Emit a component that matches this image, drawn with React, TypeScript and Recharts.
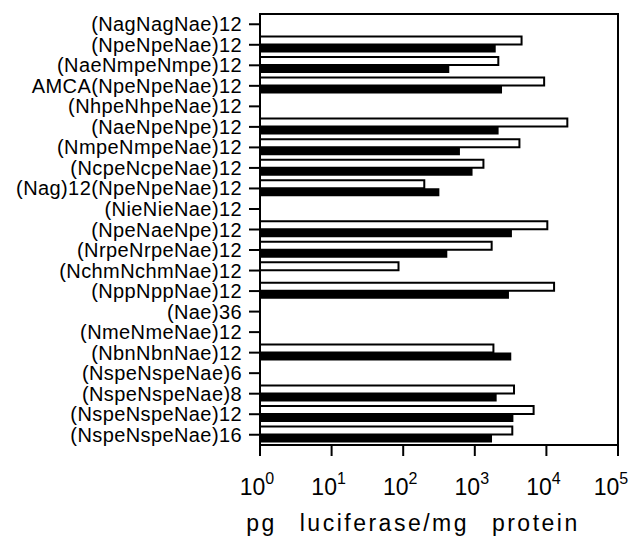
import React from "react";
import {
  BarChart,
  Bar,
  XAxis,
  YAxis,
  ReferenceArea,
} from "recharts";

const compounds = [
  "(NagNagNae)12",
  "(NpeNpeNae)12",
  "(NaeNmpeNmpe)12",
  "AMCA(NpeNpeNae)12",
  "(NhpeNhpeNae)12",
  "(NaeNpeNpe)12",
  "(NmpeNmpeNae)12",
  "(NcpeNcpeNae)12",
  "(Nag)12(NpeNpeNae)12",
  "(NieNieNae)12",
  "(NpeNaeNpe)12",
  "(NrpeNrpeNae)12",
  "(NchmNchmNae)12",
  "(NppNppNae)12",
  "(Nae)36",
  "(NmeNmeNae)12",
  "(NbnNbnNae)12",
  "(NspeNspeNae)6",
  "(NspeNspeNae)8",
  "(NspeNspeNae)12",
  "(NspeNspeNae)16",
];

// open (white) bars, upper in each pair
const openValues = [
  null, 4500, 2130, 9300, null, 19600, 4200, 1320, 197, null, 10300,
  1720, 86, 12800, null, null, 1820, null, 3530, 6630, 3340,
];

// filled (black) bars, lower in each pair
const filledValues = [
  null, 1960, 440, 2400, null, 2150, 620, 930, 320, null, 3300,
  413, null, 3000, null, null, 3230, null, 2020, 3460, 1740,
];

const xTicks = [1, 10, 100, 1000, 10000, 100000];
const xTitle = "pg luciferase/mg protein";

const font = "'Liberation Sans', Arial, Helvetica, sans-serif";

const data = compounds.map((name, i) => ({
  name,
  open: openValues[i],
  filled: filledValues[i],
}));

function PowerTick(props: any) {
  const { x, y, payload } = props;
  const exp = Math.round(Math.log10(payload.value));
  return (
    <text
      x={x - 3}
      y={y + 37}
      textAnchor="middle"
      fill="#000"
      fontFamily={font}
      fontSize={23}
    >
      <tspan>10</tspan>
      <tspan dy={-11} fontSize={16}>
        {exp}
      </tspan>
    </text>
  );
}

function NameTick(props: any) {
  const { x, y, payload } = props;
  return (
    <text
      x={x}
      y={y}
      dy={7}
      textAnchor="end"
      fill="#000"
      fontFamily={font}
      fontSize={20}
      letterSpacing={0.4}
    >
      {payload.value}
    </text>
  );
}

function AxisTitle(props: any) {
  const vb = props.viewBox || {};
  return (
    <text
      x={vb.x + vb.width / 2 - 26}
      y={vb.y + 86}
      textAnchor="middle"
      fill="#000"
      fontFamily={font}
      fontSize={23}
      letterSpacing={2.5}
      wordSpacing={14}
    >
      {xTitle}
    </text>
  );
}

export default function App() {
  return (
    <div style={{ position: "absolute", left: 0, top: 0, background: "#fff" }}>
      <BarChart
        width={638}
        height={542}
        data={data}
        layout="vertical"
        margin={{ top: 14, right: 20, left: 0, bottom: 0 }}
        barCategoryGap={2}
        barGap={0}
      >
        <XAxis
          type="number"
          scale="log"
          domain={[1, 100000]}
          ticks={xTicks}
          allowDataOverflow
          height={97}
          axisLine={{ stroke: "#000", strokeWidth: 2 }}
          tickLine={{ stroke: "#000", strokeWidth: 2 }}
          tickSize={11}
          tick={<PowerTick />}
          label={<AxisTitle />}
        />
        <YAxis
          type="category"
          dataKey="name"
          width={260}
          interval={0}
          axisLine={{ stroke: "#000", strokeWidth: 2 }}
          tickLine={{ stroke: "#000", strokeWidth: 2 }}
          tickSize={11}
          tickMargin={7}
          tick={<NameTick />}
        />
        <ReferenceArea
          x1={1}
          x2={100000}
          fill="none"
          stroke="#000"
          strokeWidth={2}
          ifOverflow="visible"
        />
        <Bar
          dataKey="open"
          fill="#fff"
          stroke="#000"
          strokeWidth={2}
          isAnimationActive={false}
        />
        <Bar dataKey="filled" fill="#000" isAnimationActive={false} />
      </BarChart>
    </div>
  );
}
